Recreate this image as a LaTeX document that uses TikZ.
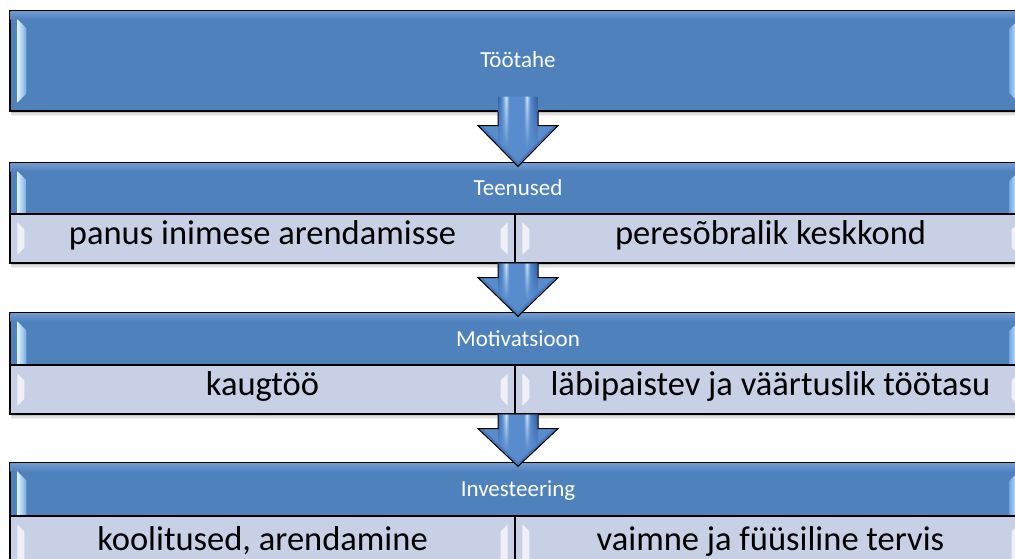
\documentclass[tikz,border=0pt]{standalone}
\usepackage{fontspec}
\setmainfont{Carlito}
\usetikzlibrary{calc,fadings,backgrounds}

\definecolor{hdrblue}{RGB}{79,129,189}
\definecolor{hdrtop}{RGB}{112,154,206}
\definecolor{hdrlight}{RGB}{120,170,225}
\definecolor{glint}{RGB}{225,242,255}
\definecolor{cellfill}{RGB}{199,208,228}
\definecolor{arrmid}{RGB}{88,140,205}
\definecolor{arrdark}{RGB}{55,100,165}
\definecolor{arrlight}{RGB}{205,228,250}

% vertical light streaks along the arrow shaft
\pgfdeclarehorizontalshading{shaftshade}{100bp}{color(0bp)=(arrdark); color(25bp)=(arrdark);
  color(30bp)=(arrmid); color(35bp)=(arrlight); color(39bp)=(arrmid); color(50bp)=(arrmid);
  color(57bp)=(arrmid); color(61bp)=(arrlight); color(65bp)=(arrmid); color(72bp)=(arrdark);
  color(100bp)=(arrdark)}
\tikzfading[name=fadedown, top color=transparent!0, bottom color=transparent!100]

\tikzset{
  hdrbox/.style={draw=black, line width=1.3pt, fill=hdrblue, text=white, inner sep=0pt,
    minimum width=1016pt, text height=16pt, text depth=2pt, font=\fontsize{23}{28}\selectfont},
  cellbox/.style={draw=black, line width=1.3pt, fill=cellfill, text=black, inner sep=0pt,
    minimum height=49pt, text height=23pt, text depth=12pt, font=\fontsize{34.5}{40}\selectfont},
  glow/.style={fill=white, fill opacity=.72},
  arrowline/.style={draw=black, line width=1pt, line join=miter},
}

% bevel of a blue header: light top rim and bright side glints
\newcommand\hdrglints[3]{%
  \shade[top color=hdrtop, bottom color=hdrblue]
    ($(#1.north west)+(1pt,-1pt)$) rectangle ($(#1.north east)+(-1pt,-9pt)$);
  \shade[left color=glint, right color=hdrlight]
    ($(#1.north west)+(8pt,-9pt)$) -- ($(#1.north west)+(17pt,-18pt)$)
    -- ($(#1.south west)+(17pt,#3)$) -- ($(#1.south west)+(8pt,#2)$) -- cycle;
  \shade[left color=hdrlight, right color=glint]
    ($(#1.north east)+(-8pt,-9pt)$) -- ($(#1.north east)+(-17pt,-18pt)$)
    -- ($(#1.south east)+(-17pt,#3)$) -- ($(#1.south east)+(-8pt,#2)$) -- cycle;
}

% pale glints on both sides of a light cell
\newcommand\cellglints[1]{%
  \fill[glow] ($(#1.north west)+(8pt,-9pt)$) -- ($(#1.north west)+(15pt,-16pt)$)
    -- ($(#1.south west)+(15pt,16pt)$) -- ($(#1.south west)+(8pt,9pt)$) -- cycle;
  \fill[glow] ($(#1.north east)+(-8pt,-9pt)$) -- ($(#1.north east)+(-15pt,-16pt)$)
    -- ($(#1.south east)+(-15pt,16pt)$) -- ($(#1.south east)+(-8pt,9pt)$) -- cycle;
}

% soft shadow below a block
\newcommand\softshadow[2]{%
  \foreach \sd/\so in {1.5pt/0.12,3pt/0.08,4.5pt/0.05}{%
    \fill[black, opacity=\so] ($(#1.north west)+(2pt,-\sd)$) rectangle ($(#2.south east)+(-2pt,-\sd)$);
  }%
}

% block arrow from the bottom of #1 down onto the top of #2; #3 = reach into #1
\newcommand\flowarrow[3]{%
  \path let \p1=(#1.south), \p2=(#2.north) in
    coordinate (fa-tl) at (\x2-20pt,\y1+#3) coordinate (fa-tr) at (\x2+20pt,\y1+#3)
    coordinate (fa-bl) at (\x2-20pt,\y1) coordinate (fa-br) at (\x2+20pt,\y1)
    coordinate (fa-sl) at (\x2-20pt,\y1-14pt) coordinate (fa-sr) at (\x2+20pt,\y1-14pt)
    coordinate (fa-hl) at (\x2-40pt,\y1-14pt) coordinate (fa-hr) at (\x2+40pt,\y1-14pt)
    coordinate (fa-tip) at (\x2,\y2-4pt);
  \fill[arrmid] (fa-tl) -- (fa-sl) -- (fa-hl) -- (fa-tip) -- (fa-hr) -- (fa-sr) -- (fa-tr) -- cycle;
  \begin{scope}
    \clip (fa-tl) -- (fa-sl) -- (fa-hl) -- (fa-tip) -- (fa-hr) -- (fa-sr) -- (fa-tr) -- cycle;
    \draw[arrdark, line width=6pt, opacity=.45] (fa-hl) -- (fa-tip) -- (fa-hr);
    \shade[shading=shaftshade, path fading=fadedown] (fa-tl) rectangle ($(fa-sr)+(0pt,-22pt)$);
  \end{scope}
  \draw[arrowline] (fa-bl) -- (fa-sl) -- (fa-hl) -- (fa-tip) -- (fa-hr) -- (fa-sr) -- (fa-br);
}

\begin{document}
\begin{tikzpicture}[x=1pt,y=-1pt]
\useasboundingbox (0,0) rectangle (1015,559);
\clip (0,0) rectangle (1015,559);

% top block
\node[hdrbox, minimum height=100pt] (tootahe) at (518,61) {Töötahe};
\hdrglints{tootahe}{9pt}{18pt}

% Teenused
\node[hdrbox, minimum height=51pt] (teenused) at (518,188.5) {Teenused};
\hdrglints{teenused}{1pt}{1pt}
\node[cellbox, minimum width=505pt] (panus) at (262.5,238.5) {panus inimese arendamisse};
\node[cellbox, minimum width=511pt] (pere) at (770.5,238.5) {peresõbralik keskkond};
\cellglints{panus}\cellglints{pere}

% Motivatsioon
\node[hdrbox, minimum height=52pt] (motiv) at (518,339) {Motivatsioon};
\hdrglints{motiv}{1pt}{1pt}
\node[cellbox, minimum width=505pt] (kaug) at (262.5,389.5) {kaugtöö};
\node[cellbox, minimum width=511pt] (labi) at (770.5,389.5) {läbipaistev ja väärtuslik töötasu};
\cellglints{kaug}\cellglints{labi}

% Investeering
\node[hdrbox, minimum height=53pt] (invest) at (518,489.5) {Investeering};
\hdrglints{invest}{1pt}{1pt}
\node[cellbox, minimum width=505pt, minimum height=58pt] (koolit) at (262.5,545) {koolitused, arendamine};
\node[cellbox, minimum width=511pt, minimum height=58pt] (vaimne) at (770.5,545) {vaimne ja füüsiline tervis};
\cellglints{koolit}\cellglints{vaimne}

% arrows between the blocks
\flowarrow{tootahe}{teenused}{15pt}
\flowarrow{panus}{motiv}{0pt}
\flowarrow{kaug}{invest}{0pt}

\begin{scope}[on background layer]
  \fill[white] (0,0) rectangle (1015,559);
  \softshadow{tootahe}{tootahe}
  \softshadow{teenused}{pere}
  \softshadow{motiv}{labi}
  \softshadow{invest}{vaimne}
\end{scope}
\end{tikzpicture}
\end{document}
